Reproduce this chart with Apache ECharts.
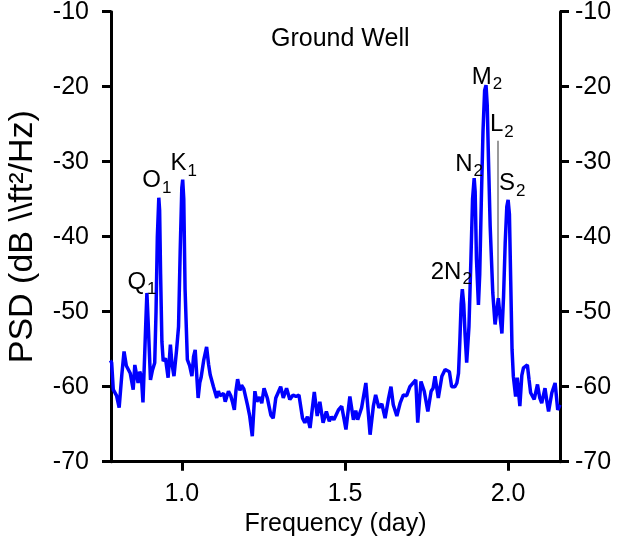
<!DOCTYPE html>
<html>
<head>
<meta charset="utf-8">
<script src="https://cdn.jsdelivr.net/npm/echarts@6/dist/echarts.min.js"></script>
<style>html,body{margin:0;padding:0;background:#fff}#c{width:627px;height:544px}</style>
</head>
<body>
<div id="c"></div>
<script>
// Frequency (cycles/day) and PSD (dB)
var freq = [0.781,0.785,0.790,0.800,0.808,0.816,0.823,0.830,0.836,0.842,0.851,0.856,0.861,0.866,0.871,0.876,0.881,0.886,0.890,0.893,0.897,0.904,0.910,0.917,0.921,0.925,0.9295,0.932,0.935,0.939,0.943,0.950,0.958,0.965,0.970,0.976,0.984,0.990,0.995,1.000,1.0027,1.006,1.010,1.017,1.024,1.031,1.036,1.041,1.050,1.055,1.059,1.067,1.076,1.082,1.087,1.097,1.107,1.112,1.117,1.122,1.128,1.133,1.143,1.150,1.155,1.161,1.166,1.171,1.178,1.183,1.190,1.201,1.208,1.216,1.224,1.230,1.238,1.245,1.252,1.262,1.273,1.280,1.288,1.295,1.303,1.311,1.321,1.331,1.341,1.350,1.359,1.370,1.377,1.385,1.393,1.406,1.415,1.423,1.433,1.443,1.452,1.459,1.466,1.480,1.490,1.503,1.515,1.526,1.533,1.539,1.551,1.564,1.577,1.587,1.594,1.604,1.613,1.623,1.633,1.641,1.648,1.659,1.669,1.679,1.689,1.699,1.709,1.717,1.723,1.733,1.743,1.754,1.764,1.770,1.776,1.786,1.797,1.807,1.813,1.820,1.827,1.837,1.843,1.848,1.852,1.856,1.8597,1.864,1.868,1.873,1.880,1.886,1.891,1.896,1.899,1.903,1.909,1.913,1.918,1.923,1.928,1.9323,1.936,1.940,1.945,1.953,1.960,1.965,1.970,1.975,1.981,1.986,1.991,1.996,2.000,2.004,2.008,2.012,2.016,2.023,2.028,2.036,2.042,2.047,2.053,2.059,2.064,2.069,2.080,2.090,2.097,2.103,2.113,2.119,2.124,2.134,2.144,2.152,2.159];
var psd = [-56.5,-56.8,-60.4,-61.2,-62.8,-58.5,-55.3,-57.2,-57.7,-58.2,-60.4,-57.1,-58.3,-59.5,-58.0,-58.6,-62.1,-56.0,-51.0,-47.5,-51.5,-59.1,-57.8,-56.8,-50.0,-40.0,-34.8,-36.5,-45.0,-54.0,-56.6,-56.2,-58.8,-54.4,-57.0,-58.6,-55.1,-52.0,-42.0,-33.5,-32.4,-35.0,-47.0,-56.4,-57.2,-58.6,-56.0,-55.1,-61.5,-59.5,-58.8,-56.5,-54.7,-57.0,-58.4,-60.0,-61.5,-60.6,-61.2,-61.1,-60.9,-62.0,-60.6,-61.2,-62.0,-63.1,-60.5,-59.0,-60.5,-59.8,-60.3,-62.4,-63.9,-66.6,-60.6,-62.0,-61.4,-62.2,-60.2,-61.5,-63.8,-64.2,-61.5,-60.8,-60.0,-61.5,-60.2,-61.7,-61.1,-61.3,-61.1,-64.2,-64.8,-64.0,-65.5,-60.7,-63.9,-62.0,-64.8,-63.3,-64.6,-64.0,-64.4,-63.1,-62.6,-65.7,-61.3,-64.4,-63.2,-64.4,-62.8,-59.5,-66.4,-62.6,-61.1,-62.8,-62.3,-64.2,-61.7,-60.0,-62.4,-63.9,-62.2,-61.1,-61.2,-60.0,-59.5,-59.1,-64.8,-59.3,-60.6,-63.3,-60.6,-60.2,-58.6,-61.5,-58.6,-57.7,-57.8,-58.0,-60.0,-60.0,-59.5,-58.2,-54.0,-49.0,-47.0,-49.0,-53.0,-56.8,-52.0,-43.0,-35.0,-32.2,-34.0,-43.0,-49.1,-45.0,-35.0,-26.0,-20.5,-19.8,-22.5,-30.0,-38.6,-47.5,-51.7,-50.0,-48.2,-50.5,-52.9,-48.0,-40.9,-36.0,-35.1,-37.0,-46.0,-55.0,-58.6,-61.3,-58.8,-62.6,-58.5,-57.5,-57.4,-57.1,-59.0,-60.8,-61.7,-59.7,-61.5,-62.2,-60.2,-62.0,-63.3,-60.8,-59.5,-63.1,-62.4];

// Tidal constituents: names, subscripts, frequency, label anchor level (dB)
var constName = ['Q','O','K','2N','N','M','L','S'];
var constSub  = ['1','1','1','2','2','2','2','2'];
var constFreq = [0.8932,0.9295,1.0027,1.8597,1.8960,1.9323,1.9686,2.0000];
var constLevel = [-47.5,-34.8,-32.4,-47.0,-32.2,-19.8,-27.2,-35.1];
var l2Line = [-27.2,-48.4];

var xTicks = [1.0,1.5,2.0];
var yMin = -70, yMax = -10, yStep = 10;

var FONT = '"Liberation Sans", Arial, Helvetica, sans-serif';
var labelOffsets = [[-5,-11],[-2,-17],[1,-16],[-11,-17],[-5,-14],[1,-8],[4,-16],[4,-16.5]];

var lineData = freq.map(function(f,i){return [f, psd[i]];});
var labelData = constFreq.map(function(f,i){
  return {
    value:[f, constLevel[i]],
    label:{show:true, position:'inside', offset:labelOffsets[i],
      formatter:'{b|'+constName[i]+'}{s|'+constSub[i]+'}'}
  };
});

var chart = echarts.init(document.getElementById('c'), null, {renderer:'canvas'});
var yAxisCommon = {
  type:'value', min:yMin, max:yMax, interval:yStep,
  axisLine:{show:true, lineStyle:{color:'#000', width:3}},
  axisTick:{show:true, length:9, lineStyle:{color:'#000', width:3}},
  splitLine:{show:false},
  axisLabel:{color:'#000', fontSize:25, fontFamily:FONT}
};
chart.setOption({
  animation:false,
  backgroundColor:'#fff',
  title:{text:'Ground Well', left:266, top:22,
    textStyle:{fontSize:25, fontWeight:'normal', color:'#000', fontFamily:FONT}},
  grid:{left:111, right:67, top:11.7, bottom:82.3, containLabel:false, outerBoundsMode:'none'},
  xAxis:{
    type:'value', min:0.783, max:2.159,
    name:'Frequency (day)', nameLocation:'middle', nameGap:50,
    nameTextStyle:{fontSize:25, color:'#000', fontFamily:FONT},
    axisLine:{show:true, onZero:false, lineStyle:{color:'#000', width:3}},
    axisTick:{show:true, length:9, customValues:xTicks, lineStyle:{color:'#000', width:3}},
    axisLabel:{color:'#000', fontSize:25, fontFamily:FONT, margin:20, customValues:xTicks,
      formatter:function(v){return v.toFixed(1);}},
    splitLine:{show:false}
  },
  yAxis:[
    Object.assign({}, yAxisCommon, {
      position:'left',
      name:'PSD (dB \\\\ft\u00B2/Hz)', nameLocation:'middle', nameGap:71, nameRotate:90,
      nameTextStyle:{fontSize:34, color:'#000', fontFamily:FONT},
      axisLabel:Object.assign({}, yAxisCommon.axisLabel, {margin:22})
    }),
    Object.assign({}, yAxisCommon, {
      position:'right',
      axisLabel:Object.assign({}, yAxisCommon.axisLabel, {margin:15})
    })
  ],
  series:[
    {
      type:'line', data:lineData, yAxisIndex:0, showSymbol:false, symbol:'none',
      lineStyle:{color:'#0000ff', width:3.5}, z:3,
      markLine:{silent:true, symbol:'none', z:2,
        lineStyle:{color:'#999', width:2, type:'solid'}, label:{show:false},
        data:[[{coord:[constFreq[6], l2Line[0]]},{coord:[constFreq[6], l2Line[1]]}]]}
    },
    {
      type:'scatter', data:labelData, symbolSize:0, silent:true, z:5,
      itemStyle:{opacity:1},
      label:{color:'#000', opacity:1, fontFamily:FONT,
        rich:{
          b:{fontSize:24, lineHeight:24, verticalAlign:'top', color:'#000', fontFamily:FONT},
          s:{fontSize:17, lineHeight:17, verticalAlign:'top', padding:[11,0,0,1], color:'#000', fontFamily:FONT}
        }}
    }
  ]
});
</script>
</body>
</html>
